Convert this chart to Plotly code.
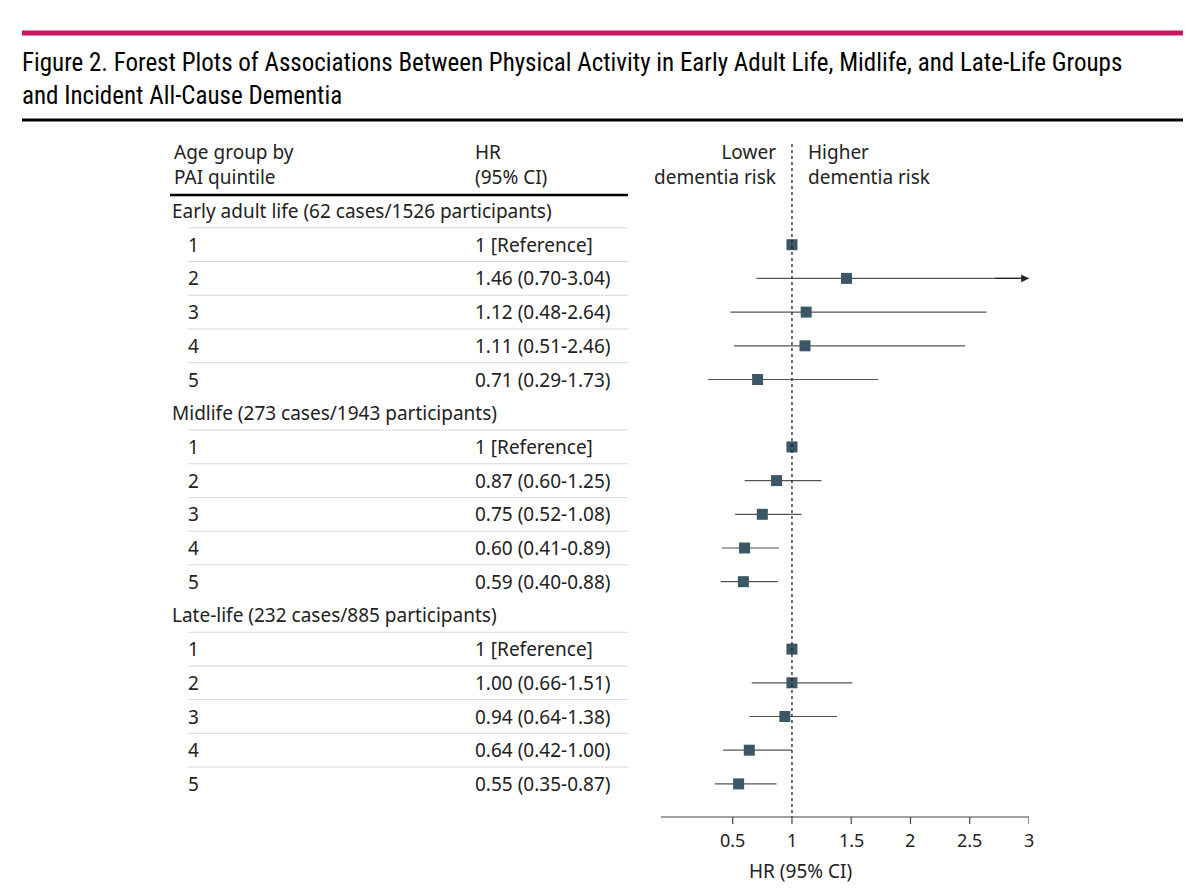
import plotly.graph_objects as go

groups = ["Early adult life (62 cases/1526 participants)",
          "Midlife (273 cases/1943 participants)",
          "Late-life (232 cases/885 participants)"]
quintiles = ["1", "2", "3", "4", "5"]
hr = [[1.00, 1.46, 1.12, 1.11, 0.71],
      [1.00, 0.87, 0.75, 0.60, 0.59],
      [1.00, 1.00, 0.94, 0.64, 0.55]]
lo = [[None, 0.70, 0.48, 0.51, 0.29],
      [None, 0.60, 0.52, 0.41, 0.40],
      [None, 0.66, 0.64, 0.42, 0.35]]
hi = [[None, 3.04, 2.64, 2.46, 1.73],
      [None, 1.25, 1.08, 0.89, 0.88],
      [None, 1.51, 1.38, 1.00, 0.87]]
hr_text = [["1 [Reference]", "1.46 (0.70-3.04)", "1.12 (0.48-2.64)", "1.11 (0.51-2.46)", "0.71 (0.29-1.73)"],
           ["1 [Reference]", "0.87 (0.60-1.25)", "0.75 (0.52-1.08)", "0.60 (0.41-0.89)", "0.59 (0.40-0.88)"],
           ["1 [Reference]", "1.00 (0.66-1.51)", "0.94 (0.64-1.38)", "0.64 (0.42-1.00)", "0.55 (0.35-0.87)"]]
x_ticks = [0.5, 1, 1.5, 2, 2.5, 3]
x_max = 3

FONT = "Liberation Sans Narrow, Roboto Condensed, Noto Sans, sans-serif"
BODY = "Noto Sans, sans-serif"
MARK = "#3b5666"
ROW = 33.7
OFF = 8  # page offset of the figure


def px(x):
    return (x - OFF) / 1200


fig = go.Figure()
shapes, annots = [], []

# figure frame
shapes.append(dict(type="line", xref="paper", yref="y", x0=px(22), x1=px(1183), y0=17, y1=17,
                   line=dict(color="#c8175d", width=5)))
shapes.append(dict(type="line", xref="paper", yref="y", x0=px(22), x1=px(1183), y0=104, y1=104,
                   line=dict(color="black", width=3)))
annots.append(dict(xref="paper", yref="y", x=px(20), y=30, xanchor="left", yanchor="top", align="left",
                   text="Figure 2. Forest Plots of Associations Between Physical Activity in Early Adult Life, Midlife, and Late-Life Groups<br>and Incident All-Cause Dementia",
                   showarrow=False, font=dict(family=FONT, size=25, color="black")))

# column headers
for x, t, anc in [(172, "Age group by<br>PAI quintile", "left"), (473, "HR<br>(95% CI)", "left"),
                  (778, "Lower<br>dementia risk", "right"), (806, "Higher<br>dementia risk", "left")]:
    annots.append(dict(xref="paper", yref="y", x=px(x), y=148, xanchor=anc, yanchor="middle", align=anc,
                       text=t, showarrow=False, font=dict(family=BODY, size=19, color="#222")))
shapes.append(dict(type="line", xref="paper", yref="y", x0=px(170), x1=px(628), y0=179, y1=179,
                   line=dict(color="black", width=2.5)))

y0 = 195
for g, name in enumerate(groups):
    gy = y0 + g * 6 * ROW
    annots.append(dict(xref="paper", yref="y", x=px(170), y=gy, xanchor="left", yanchor="middle",
                       text=name, showarrow=False, font=dict(family=BODY, size=19, color="#222")))
    ys = [gy + (i + 1) * ROW for i in range(5)]
    for i, q in enumerate(quintiles):
        shapes.append(dict(type="line", xref="paper", yref="y", x0=px(188), x1=px(628),
                           y0=ys[i] - ROW / 2, y1=ys[i] - ROW / 2, line=dict(color="#d8d8d8", width=1)))
        annots.append(dict(xref="paper", yref="y", x=px(186), y=ys[i], xanchor="left", yanchor="middle",
                           text=q, showarrow=False, font=dict(family=BODY, size=19, color="#222")))
        annots.append(dict(xref="paper", yref="y", x=px(473), y=ys[i], xanchor="left", yanchor="middle",
                           text=hr_text[g][i], showarrow=False, font=dict(family=BODY, size=19, color="#222")))
        if lo[g][i] is not None:
            up = min(hi[g][i], x_max)
            fig.add_trace(go.Scatter(x=[lo[g][i], up], y=[ys[i], ys[i]], mode="lines",
                                     line=dict(color="#555", width=1.2), hoverinfo="skip"))
            if hi[g][i] > x_max:
                annots.append(dict(x=up, y=ys[i], ax=up - 0.3, ay=ys[i], xref="x", yref="y",
                                   axref="x", ayref="y", text="", showarrow=True, arrowhead=2,
                                   arrowsize=1.3, arrowwidth=1.2, arrowcolor="#222"))
    fig.add_trace(go.Scatter(x=hr[g], y=ys, mode="markers",
                             marker=dict(symbol="square", size=11, color=MARK)))

# reference line
shapes.append(dict(type="line", xref="x", yref="y", x0=1, x1=1, y0=128, y1=801,
                   line=dict(color="#222", width=1.3, dash="dot")))

# x axis drawn below the rows
shapes.append(dict(type="line", xref="x", yref="y", x0=-0.105, x1=3, y0=801, y1=801,
                   line=dict(color="#444", width=1.2)))
for t in x_ticks:
    shapes.append(dict(type="line", xref="x", yref="y", x0=t, x1=t, y0=801, y1=808,
                       line=dict(color="#444", width=1.2)))
    annots.append(dict(xref="x", yref="y", x=t, y=824, text=str(t), showarrow=False,
                       font=dict(family=BODY, size=18, color="#222")))
annots.append(dict(xref="x", yref="y", x=1.07, y=855, text="HR (95% CI)", showarrow=False,
                   font=dict(family=BODY, size=19, color="#222")))

fig.update_layout(
    width=1200, height=895, margin=dict(l=0, r=0, t=0, b=0),
    paper_bgcolor="white", plot_bgcolor="white", showlegend=False,
    shapes=shapes, annotations=annots,
    xaxis=dict(domain=[px(661), px(1029)], range=[-0.105, 3], showgrid=False, zeroline=False,
               showline=False, ticks="", showticklabels=False),
    yaxis=dict(range=[895 - OFF, -OFF], visible=False, showgrid=False),
)

fig.write_html("out.html")
